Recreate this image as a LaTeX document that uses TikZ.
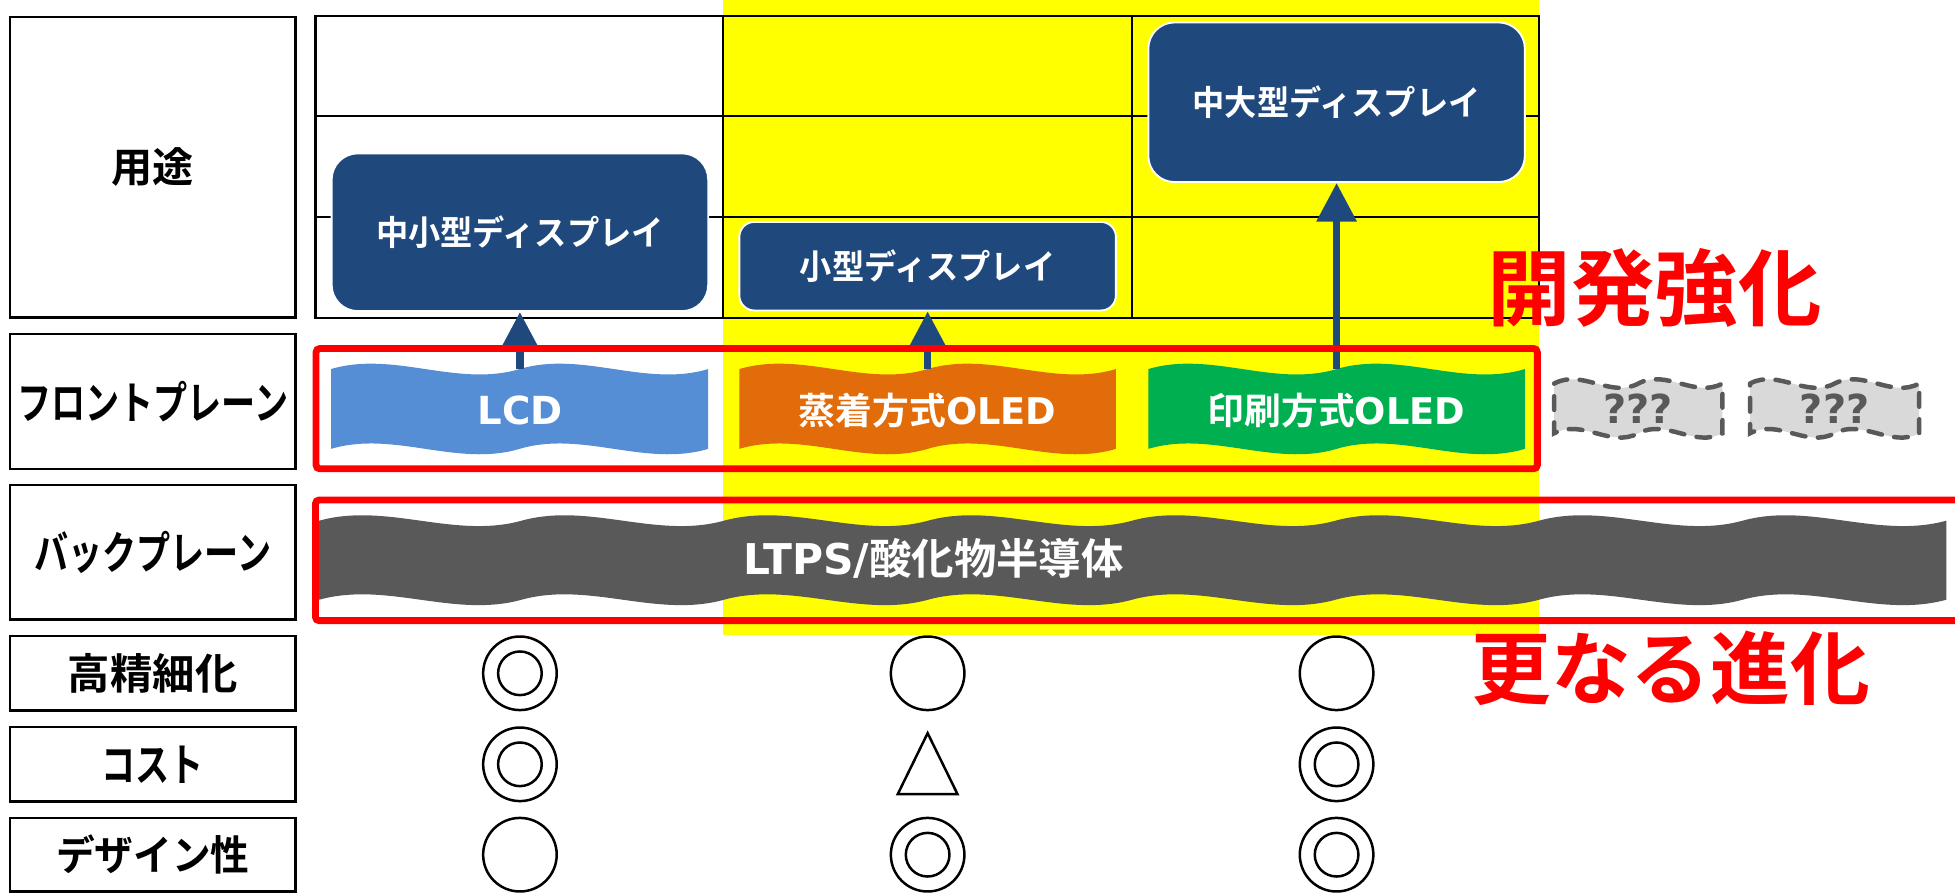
\documentclass[tikz,border=0pt]{standalone}
\usepackage{fontspec}
\usetikzlibrary{arrows.meta}
\newfontfamily\jp{Noto Sans CJK JP}[UprightFont=*, BoldFont=* Bold]
\newfontfamily\jpn{Noto Sans CJK JP}[UprightFont=*, BoldFont=* Bold, FakeStretch=0.76]
\newfontfamily\jpm{Noto Sans CJK JP}[UprightFont=*, BoldFont=* Bold, FakeStretch=0.94]
\newfontfamily\lat{DejaVu Sans}
\newcommand\fsz[1]{\fontsize{#1}{#1}\selectfont}
\definecolor{navy}{RGB}{31,73,125}
\definecolor{lcdblue}{RGB}{85,142,213}
\definecolor{orng}{RGB}{227,108,10}
\definecolor{grn}{RGB}{0,176,80}
\definecolor{dgray}{RGB}{89,89,89}
\definecolor{lgray}{RGB}{217,217,217}
\definecolor{yel}{RGB}{255,255,0}
% double wave: #1 style, #2 left x, #3 right x, #4 top mid y, #5 bottom mid y, #6 control offset
\newcommand\dwave[6]{%
 \pgfmathsetmacro\wA{#2}%
 \pgfmathsetmacro\wB{#3}%
 \pgfmathsetmacro\wP{(#3-#2)/2}%
 \path[#1] (\wA,#4)
  .. controls ({\wA+\wP/3},{#4-#6}) and ({\wA+2*\wP/3},{#4+#6}) .. ({\wA+\wP},#4)
  .. controls ({\wA+4*\wP/3},{#4-#6}) and ({\wA+5*\wP/3},{#4+#6}) .. (\wB,#4)
  -- (\wB,#5)
  .. controls ({\wB-\wP/3},{#5+#6}) and ({\wB-2*\wP/3},{#5-#6}) .. ({\wB-\wP},#5)
  .. controls ({\wB-4*\wP/3},{#5+#6}) and ({\wB-5*\wP/3},{#5-#6}) .. (\wA,#5)
  -- cycle;}
\begin{document}
\begin{tikzpicture}[x=1pt,y=-1pt,
  grid/.style={draw=black,line width=1.8pt},
  lab/.style={draw=black,line width=2pt,inner sep=0pt,minimum width=229pt,font=\jpn\bfseries\fsz{36}},
  labk/.style={lab,font=\jp\bfseries\fsz{34}},
  bbox/.style={fill=navy,draw=white,line width=1.5pt,text=white,inner sep=0pt,
    minimum width=302pt,font=\jpm\bfseries\fsz{27.5}},
  wtext/.style={text=white,inner sep=0pt,font=\jp\bfseries\fsz{29.5}},
  qtext/.style={text=dgray,inner sep=0pt,font=\lat\bfseries\fsz{32}},
  arr/.style={draw=navy,line width=6pt,-{Triangle[width=31pt,length=31pt]}},
  redf/.style={draw=red,line width=5.5pt,rounded corners=3pt},
  redt/.style={text=red,inner sep=0pt},
  sym/.style={draw=black,line width=2pt},
  qwave/.style={fill=lgray,draw=dgray,line width=3.6pt,dash pattern=on 11pt off 10pt,line cap=round}
]
\path[use as bounding box] (0,0) rectangle (1568,716);
% yellow highlight
\fill[yel] (580,0) rectangle (1234.3,509);
% grid of usage table
\draw[grid] (253,12.6) rectangle (1234.3,255);
\draw[grid] (580,12.6) -- (580,255) (908,12.6) -- (908,255)
  (253,93) -- (1234.3,93) (253,174) -- (1234.3,174);
% left labels
\node[labk,font=\jp\bfseries\fsz{33},minimum height=241pt] (l1) at (122.5,134) {用途};
\node[lab,minimum height=108pt] (l2) at (122.5,322) {フロントプレーン};
\node[lab,minimum height=108pt] (l3) at (122.5,443) {バックプレーン};
\node[labk,minimum height=60pt] (l4) at (122.5,540) {高精細化};
\node[lab,minimum height=60pt] (l5) at (122.5,613) {コスト};
\node[lab,font=\jpm\bfseries\fsz{33},minimum height=59pt] (l6) at (122.5,685.5) {デザイン性};
% backplane waves
\dwave{fill=dgray}{256}{580.7}{417.6}{481}{15}
\dwave{fill=dgray}{580.7}{908}{417.6}{481}{15}
\dwave{fill=dgray}{908}{1234.3}{417.6}{481}{15}
\dwave{fill=dgray}{1234.3}{1561}{417.6}{481}{15}
\node[anchor=west,text=white,inner sep=0pt,font=\jp\bfseries\fsz{34}] (bp) at (596,448) {{\lat LTPS/}酸化物半導体};
% front plane waves
\dwave{fill=lcdblue}{265.5}{568}{296}{360}{15}
\dwave{fill=orng}{593}{895}{296}{360}{15}
\dwave{fill=grn}{921}{1223}{296}{360}{15}
\dwave{qwave}{1246.5}{1381.5}{307.6}{347.5}{12}
\dwave{qwave}{1403.6}{1539.3}{307.6}{347.5}{12}
\node[wtext,font=\lat\bfseries\fsz{31}] (lcd) at (417,329) {LCD};
\node[wtext] (evap) at (744,329) {蒸着方式{\lat OLED}};
\node[wtext] (print) at (1072,329) {印刷方式{\lat OLED}};
\node[qtext] (q1) at (1314,328) {???};
\node[qtext] (q2) at (1471.5,328) {???};
% wave tops for arrows
\coordinate (a1) at (417,296);
\coordinate (a2) at (744,296);
\coordinate (a3) at (1072,296);
% usage boxes
\node[bbox,minimum height=126.5pt,rounded corners=21pt] (d1) at (417,186.25) {中小型ディスプレイ};
\node[bbox,minimum height=71pt,rounded corners=12pt] (d2) at (744,213.5) {小型ディスプレイ};
\node[bbox,minimum height=128pt,rounded corners=21pt] (d3) at (1072,82) {中大型ディスプレイ};
% arrows
\draw[arr] (a1) -- (d1.south);
\draw[arr] (a2) -- (d2.south);
\draw[arr] (a3) -- (d3.south);
% red frames
\draw[redf] (253.5,279.5) rectangle (1233,376);
\draw[redf] (1580,401) -- (253,401) -- (253,497.8) -- (1580,497.8);
% red captions
\node[redt,font=\jp\bfseries\fsz{67}] (t1) at (1327,231) {開発強化};
\node[redt,font=\jp\bfseries\fsz{64}] (t2) at (1340,536) {更なる進化};
% evaluation symbols
\draw[sym] (417,540) circle[radius=29.5pt] (417,540) circle[radius=17.5pt];
\draw[sym] (744,540) circle[radius=29.5pt];
\draw[sym] (1072,540) circle[radius=29.5pt];
\draw[sym] (417,613) circle[radius=29.5pt] (417,613) circle[radius=17.5pt];
\draw[sym] (744,588) -- (768,637) -- (720,637) -- cycle;
\draw[sym] (1072,613) circle[radius=29.5pt] (1072,613) circle[radius=17.5pt];
\draw[sym] (417,685.5) circle[radius=29.5pt];
\draw[sym] (744,685.5) circle[radius=29.5pt] (744,685.5) circle[radius=17.5pt];
\draw[sym] (1072,685.5) circle[radius=29.5pt] (1072,685.5) circle[radius=17.5pt];
\end{tikzpicture}
\end{document}
